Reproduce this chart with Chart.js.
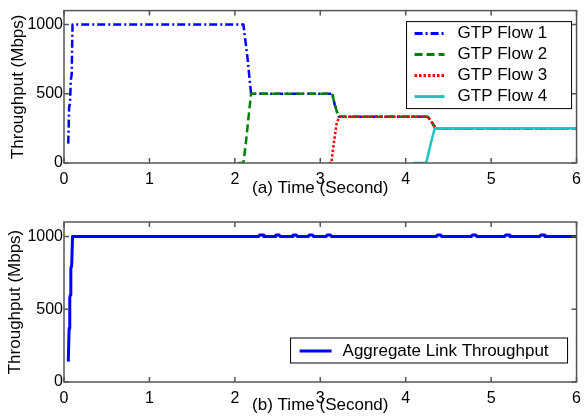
<!DOCTYPE html>
<html>
<head>
<meta charset="utf-8">
<script src="https://cdn.jsdelivr.net/npm/chart.js@4/dist/chart.umd.min.js"></script>
<style>
  html, body { margin: 0; padding: 0; background: #fff; }
  #top, #bottom { position: absolute; left: 0; }
  #top { top: 0; }
  #bottom { top: 197px; }
</style>
</head>
<body>
<canvas id="top" width="588" height="197"></canvas>
<canvas id="bottom" width="588" height="221"></canvas>
<script>
// ---- DATA ----
const xTicks = [0, 1, 2, 3, 4, 5, 6];
const yTicks = [0, 500, 1000];

const flow1T = [0.05, 0.06, 0.07, 0.08, 0.09, 0.1, 2.1, 2.12, 2.15, 2.17, 2.19, 3.14, 3.17, 3.2, 3.22, 4.26, 4.3, 4.33, 4.35, 6];
const flow1Y = [140, 400, 430, 600, 640, 1000, 1000, 900, 750, 620, 500, 500, 420, 360, 333, 333, 300, 270, 250, 250];

const flow2T = [2.04, 2.1, 2.13, 2.16, 2.19, 3.14, 3.17, 3.2, 3.22, 4.26, 4.3, 4.33, 4.35, 6];
const flow2Y = [0, 0, 150, 330, 500, 500, 420, 360, 333, 333, 300, 270, 250, 250];

const flow3T = [3.1, 3.13, 3.16, 3.19, 3.22, 4.26, 4.3, 4.33, 4.35, 6];
const flow3Y = [0, 0, 150, 280, 333, 333, 300, 270, 250, 250];

const flow4T = [4.09, 4.24, 4.27, 4.31, 4.34, 6];
const flow4Y = [0, 0, 80, 180, 250, 250];

const aggT = [0.05, 0.06, 0.065, 0.07, 0.075, 0.08, 0.09, 0.1,
  2.28, 2.29, 2.33, 2.34, 2.47, 2.48, 2.52, 2.53, 2.67, 2.68, 2.72, 2.73,
  2.86, 2.87, 2.91, 2.92, 3.07, 3.08, 3.12, 3.13, 4.36, 4.37, 4.41, 4.42,
  4.77, 4.78, 4.82, 4.83, 5.16, 5.17, 5.21, 5.22, 5.57, 5.58, 5.62, 5.63, 6];
const aggY = [140, 370, 380, 580, 600, 780, 800, 1000,
  1000, 1010, 1010, 1000, 1000, 1010, 1010, 1000, 1000, 1010, 1010, 1000,
  1000, 1010, 1010, 1000, 1000, 1010, 1010, 1000, 1000, 1010, 1010, 1000,
  1000, 1010, 1010, 1000, 1000, 1010, 1010, 1000, 1000, 1010, 1010, 1000, 1000];

const pts = (t, v) => t.map((x, i) => ({ x: x, y: v[i] }));

const FONT = '"Liberation Sans", Arial, Helvetica, sans-serif';

// ---- PLUGINS ----
// matlab style box with inward ticks
const frameTicks = {
  id: 'frameTicks',
  afterDatasetsDraw(chart) {
    const { ctx, chartArea: a, scales: { x, y } } = chart;
    ctx.save();
    ctx.strokeStyle = '#555';
    ctx.lineWidth = 1.5;
    ctx.strokeRect(a.left, a.top, a.right - a.left, a.bottom - a.top);
    ctx.beginPath();
    x.ticks.forEach(t => {
      const px = x.getPixelForValue(t.value);
      ctx.moveTo(px, a.bottom); ctx.lineTo(px, a.bottom - 5);
      ctx.moveTo(px, a.top); ctx.lineTo(px, a.top + 5);
    });
    y.ticks.forEach(t => {
      const py = y.getPixelForValue(t.value);
      ctx.moveTo(a.left, py); ctx.lineTo(a.left + 5, py);
      ctx.moveTo(a.right, py); ctx.lineTo(a.right - 5, py);
    });
    ctx.stroke();
    ctx.restore();
  }
};

// legend in a box inside the plot
const boxLegend = {
  id: 'boxLegend',
  afterDraw(chart, args, o) {
    const { ctx, chartArea: a } = chart;
    const bx = a.right - o.right - o.width;
    const by = a.top + o.top;
    ctx.save();
    ctx.fillStyle = '#fff';
    ctx.fillRect(bx, by, o.width, o.height);
    ctx.strokeStyle = '#000';
    ctx.lineWidth = 1;
    ctx.strokeRect(bx, by, o.width, o.height);
    ctx.font = '17px ' + FONT;
    ctx.textBaseline = 'middle';
    chart.data.datasets.forEach((ds, i) => {
      const cy = by + o.firstRow + i * o.rowHeight;
      const sx = bx + o.padLeft;
      ctx.strokeStyle = ds.borderColor;
      ctx.lineWidth = 3;
      ctx.setLineDash(ds.borderDash || []);
      ctx.beginPath();
      ctx.moveTo(sx, cy);
      ctx.lineTo(sx + o.sample, cy);
      ctx.stroke();
      ctx.setLineDash([]);
      ctx.fillStyle = '#000';
      ctx.fillText(ds.label, sx + o.sample + o.gap, cy);
    });
    ctx.restore();
  }
};

function makeScales(xTitle, xHeight, xTitlePad, yTitlePad) {
  return {
    x: {
      type: 'linear', min: 0, max: 6,
      afterBuildTicks: s => { s.ticks = xTicks.map(v => ({ value: v })); },
      afterFit: s => { s.height = xHeight; },
      ticks: { color: '#000', font: { family: FONT, size: 16 }, padding: 7, callback: v => String(v) },
      grid: { display: false, drawTicks: false },
      border: { display: false },
      title: { display: true, text: xTitle, color: '#000',
               font: { family: FONT, size: 17, lineHeight: 1 },
               padding: { top: 0, bottom: xTitlePad } }
    },
    y: {
      min: 0, max: 1100,
      afterBuildTicks: s => { s.ticks = yTicks.map(v => ({ value: v })); },
      afterFit: s => { s.width = 64; },
      ticks: { color: '#000', font: { family: FONT, size: 16 }, padding: 1, callback: v => String(v) },
      grid: { display: false, drawTicks: false },
      border: { display: false },
      title: { display: true, text: 'Throughput (Mbps)', color: '#000',
               font: { family: FONT, size: 17, lineHeight: 1 },
               padding: { top: yTitlePad, bottom: 0 } }
    }
  };
}

// ---- CHART (a) ----
new Chart(document.getElementById('top'), {
  type: 'line',
  data: {
    datasets: [
      { label: 'GTP Flow 1', data: pts(flow1T, flow1Y), borderColor: '#0000ff', borderDash: [8, 3, 2, 3], order: 4 },
      { label: 'GTP Flow 2', data: pts(flow2T, flow2Y), borderColor: '#008000', borderDash: [8, 4], order: 3 },
      { label: 'GTP Flow 3', data: pts(flow3T, flow3Y), borderColor: '#ff0000', borderDash: [2.5, 2], order: 2 },
      { label: 'GTP Flow 4', data: pts(flow4T, flow4Y), borderColor: '#1fc3c3', order: 1 }
    ]
  },
  options: {
    responsive: false,
    animation: false,
    devicePixelRatio: 1,
    parsing: false,
    elements: { point: { radius: 0 }, line: { borderWidth: 2.5, tension: 0, borderJoinStyle: 'round' } },
    layout: { padding: { left: 0, right: 6, top: 4, bottom: 0 } },
    scales: makeScales('(a) Time (Second)', 34, 0, 10),
    plugins: {
      legend: { display: false },
      tooltip: { enabled: false },
      boxLegend: { right: 5, top: 11, width: 165, height: 87, firstRow: 12, rowHeight: 21, padLeft: 8, sample: 30, gap: 13 }
    }
  },
  plugins: [frameTicks, boxLegend]
});

// ---- CHART (b) ----
new Chart(document.getElementById('bottom'), {
  type: 'line',
  data: {
    datasets: [
      { label: 'Aggregate Link Throughput', data: pts(aggT, aggY), borderColor: '#0000ff', borderWidth: 3 }
    ]
  },
  options: {
    responsive: false,
    animation: false,
    devicePixelRatio: 1,
    parsing: false,
    elements: { point: { radius: 0 }, line: { borderWidth: 3, tension: 0, borderJoinStyle: 'round' } },
    layout: { padding: { left: 0, right: 6, top: 25, bottom: 0 } },
    scales: makeScales('(b) Time (Second)', 36, 4, 7),
    plugins: {
      legend: { display: false },
      tooltip: { enabled: false },
      boxLegend: { right: 9, top: 116, width: 277, height: 25, firstRow: 13, rowHeight: 21, padLeft: 9, sample: 32, gap: 11 }
    }
  },
  plugins: [frameTicks, boxLegend]
});
</script>
</body>
</html>
